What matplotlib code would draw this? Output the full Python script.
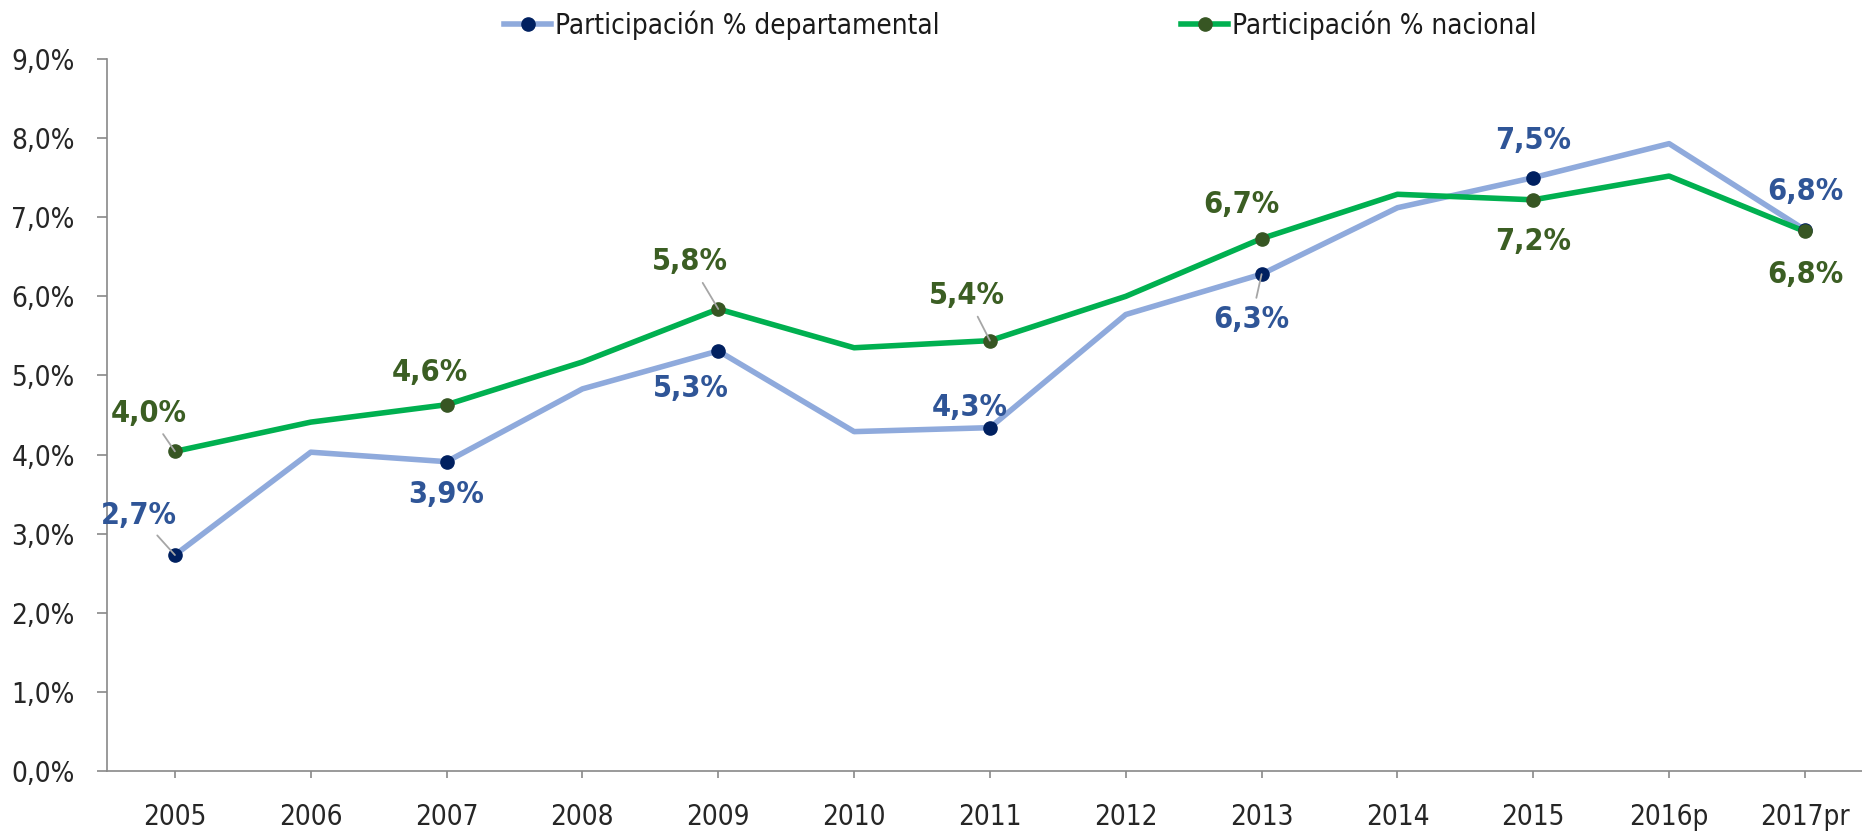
import matplotlib
matplotlib.use("Agg")
import matplotlib.pyplot as plt
from matplotlib import font_manager as fm
from matplotlib.lines import Line2D

# ---- data ----
years = ["2005", "2006", "2007", "2008", "2009", "2010", "2011", "2012",
         "2013", "2014", "2015", "2016p", "2017pr"]
departamental = [2.73, 4.03, 3.91, 4.83, 5.31, 4.29, 4.34, 5.77, 6.28, 7.12, 7.50, 7.93, 6.84]
nacional = [4.04, 4.41, 4.63, 5.17, 5.84, 5.35, 5.44, 6.00, 6.73, 7.29, 7.22, 7.52, 6.82]
dept_labeled = [0, 2, 4, 6, 8, 10, 12]
nac_labeled = [0, 2, 4, 6, 8, 10, 12]
yticks = [0, 1, 2, 3, 4, 5, 6, 7, 8, 9]
series_names = ["Participación % departamental", "Participación % nacional"]

# ---- font ----
names = {f.name for f in fm.fontManager.ttflist}
if "Liberation Sans Narrow" in names:
    FAM = ["Liberation Sans Narrow", "DejaVu Sans"]
    STRETCH = "normal"
else:
    FAM = ["DejaVu Sans"]
    STRETCH = "condensed"
plt.rcParams["font.family"] = FAM
plt.rcParams["font.stretch"] = STRETCH

DEPT_LINE = "#8FAADC"
DEPT_MK = "#002060"
DEPT_TXT = "#2F5597"
NAC_LINE = "#00B050"
NAC_MK = "#375623"
NAC_TXT = "#3B5E23"
AX_COL = "#898989"
LEAD = "#A6A6A6"

W, H = 1862, 831
fig = plt.figure(figsize=(W / 100, H / 100), dpi=100)
ax = fig.add_axes([107 / W, 60 / H, 1 - 107 / W, (771 - 59) / H])

x = list(range(len(years)))
ax.plot(x, departamental, color=DEPT_LINE, lw=4, zorder=2)
ax.plot(x, nacional, color=NAC_LINE, lw=4, zorder=3)
ax.plot([x[i] for i in dept_labeled], [departamental[i] for i in dept_labeled],
        ls="none", marker="o", ms=9.5, color=DEPT_MK, zorder=4)
ax.plot([x[i] for i in nac_labeled], [nacional[i] for i in nac_labeled],
        ls="none", marker="o", ms=9.5, color=NAC_MK, zorder=5)

# legends (two entries placed separately)
h1 = Line2D([], [], color=DEPT_LINE, lw=4, marker="o", ms=9.5, mfc=DEPT_MK, mec=DEPT_MK)
h2 = Line2D([], [], color=NAC_LINE, lw=4, marker="o", ms=9.5, mfc=NAC_MK, mec=NAC_MK)
for h, lab, x0 in [(h1, series_names[0], 504), (h2, series_names[1], 1181)]:
    lg = fig.legend([h], [lab], loc="center left", bbox_to_anchor=(x0 / W, 1 - 25 / H),
                    frameon=False, fontsize=20, handlelength=1.7, handletextpad=0.15,
                    borderpad=0, borderaxespad=0)
    for t in lg.get_texts():
        t.set_color("#1a1a1a")

# offsets (pixels) for labels, leader flag
dept_off = {0: (-36, 40, True), 2: (0, -33, False), 4: (-27, -38, False),
            6: (-20, 20, False), 8: (-10, -45, True), 10: (0, 37, False), 12: (0, 38, False)}
nac_off = {0: (-26, 38, True), 2: (-17, 32, False), 4: (-28, 47, True),
           6: (-23, 45, True), 8: (-20, 34, False), 10: (0, -42, False), 12: (0, -43, False)}


def fmt(v):
    return f"{v:.1f}".replace(".", ",") + "%"


def label(vals, offs, col):
    for i, (dx, dy, lead) in offs.items():
        kw = {}
        if lead:
            kw["arrowprops"] = dict(arrowstyle="-", color=LEAD, lw=1.3, shrinkA=3, shrinkB=0)
        ax.annotate(fmt(vals[i]), (x[i], vals[i]), xytext=(dx, dy),
                    textcoords="offset pixels", ha="center", va="center",
                    fontsize=22, fontweight="bold", color=col, zorder=6, **kw)


label(departamental, dept_off, DEPT_TXT)
label(nacional, nac_off, NAC_TXT)

ax.set_xlim(-0.5, 12.42)
ax.set_ylim(0, 9)
ax.set_xticks(x)
ax.set_xticklabels(years)
ax.set_yticks(yticks)
ax.set_yticklabels([f"{t},0%" for t in yticks])

for s in ["top", "right"]:
    ax.spines[s].set_visible(False)
for s in ["left", "bottom"]:
    ax.spines[s].set_color(AX_COL)
    ax.spines[s].set_linewidth(1.2)
ax.tick_params(axis="y", length=7.2, width=1.2, color=AX_COL, labelsize=20,
               labelcolor="#262626", pad=16)
ax.tick_params(axis="x", length=5, width=1.2, color=AX_COL, labelsize=20,
               labelcolor="#262626", pad=18)

fig.savefig("out.png", dpi=100)
